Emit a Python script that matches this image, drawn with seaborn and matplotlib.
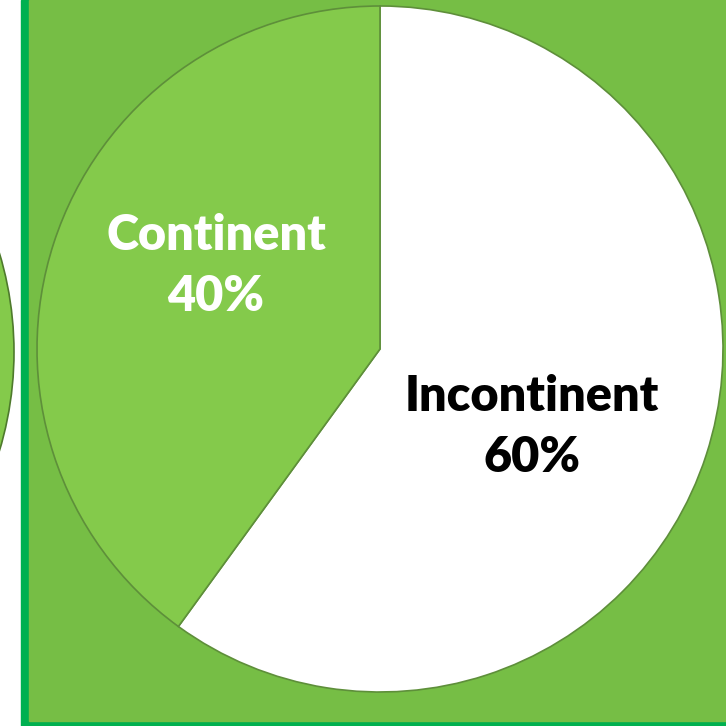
import matplotlib
matplotlib.use("Agg")
import matplotlib.pyplot as plt
import matplotlib.patches as mpatches
import seaborn as sns

labels = ["Incontinent", "Continent"]
shares = [60, 40]
slice_colors = ["#FFFFFF", "#84CA4B"]
text_colors = ["#000000", "#FFFFFF"]

sns.set_theme(style="white")
plt.rcParams['font.family'] = ['Lato', 'DejaVu Sans']

fig = plt.figure(figsize=(7.26, 7.26), dpi=100)
ax = fig.add_axes([0, 0, 1, 1])

# slide background: white strip at left, dark green frame, green panel
ax.add_patch(mpatches.Rectangle((0, 0), 726, 726, color="white", zorder=0))
ax.add_patch(mpatches.Rectangle((21, 0), 726, 726, color="#00B050", zorder=0))
ax.add_patch(mpatches.Rectangle((29, 0), 726, 721, color="#76BE45", zorder=0))

# neighbouring pie, cut off at the left edge
ax.add_patch(mpatches.Circle((-329, 352), 343, facecolor="#84CA4B",
                             edgecolor="#4E7A2C", lw=1.2, zorder=1))

cx, cy, r = 380, 349, 343
# y axis is inverted below, so counterclock + startangle -90 runs clockwise from the top
wedges, _ = ax.pie(shares, colors=slice_colors, startangle=-90, counterclock=True,
                   center=(cx, cy), radius=r, frame=True,
                   wedgeprops=dict(edgecolor="#5E8F3A", linewidth=1.2))
ax.set_xlim(0, 726)
ax.set_ylim(726, 0)
ax.set_aspect('equal')
ax.axis('off')

label_pos = [(216, 266), (532, 427)][::-1]
for lab, pct, col, (x, y) in zip(labels, shares, text_colors, label_pos):
    ax.text(x, y, f"{lab}\n{pct}%", ha="center", va="center", color=col,
            fontsize=35, fontweight="heavy", linespacing=1.42, zorder=5)

fig.savefig("out.png", dpi=100)
